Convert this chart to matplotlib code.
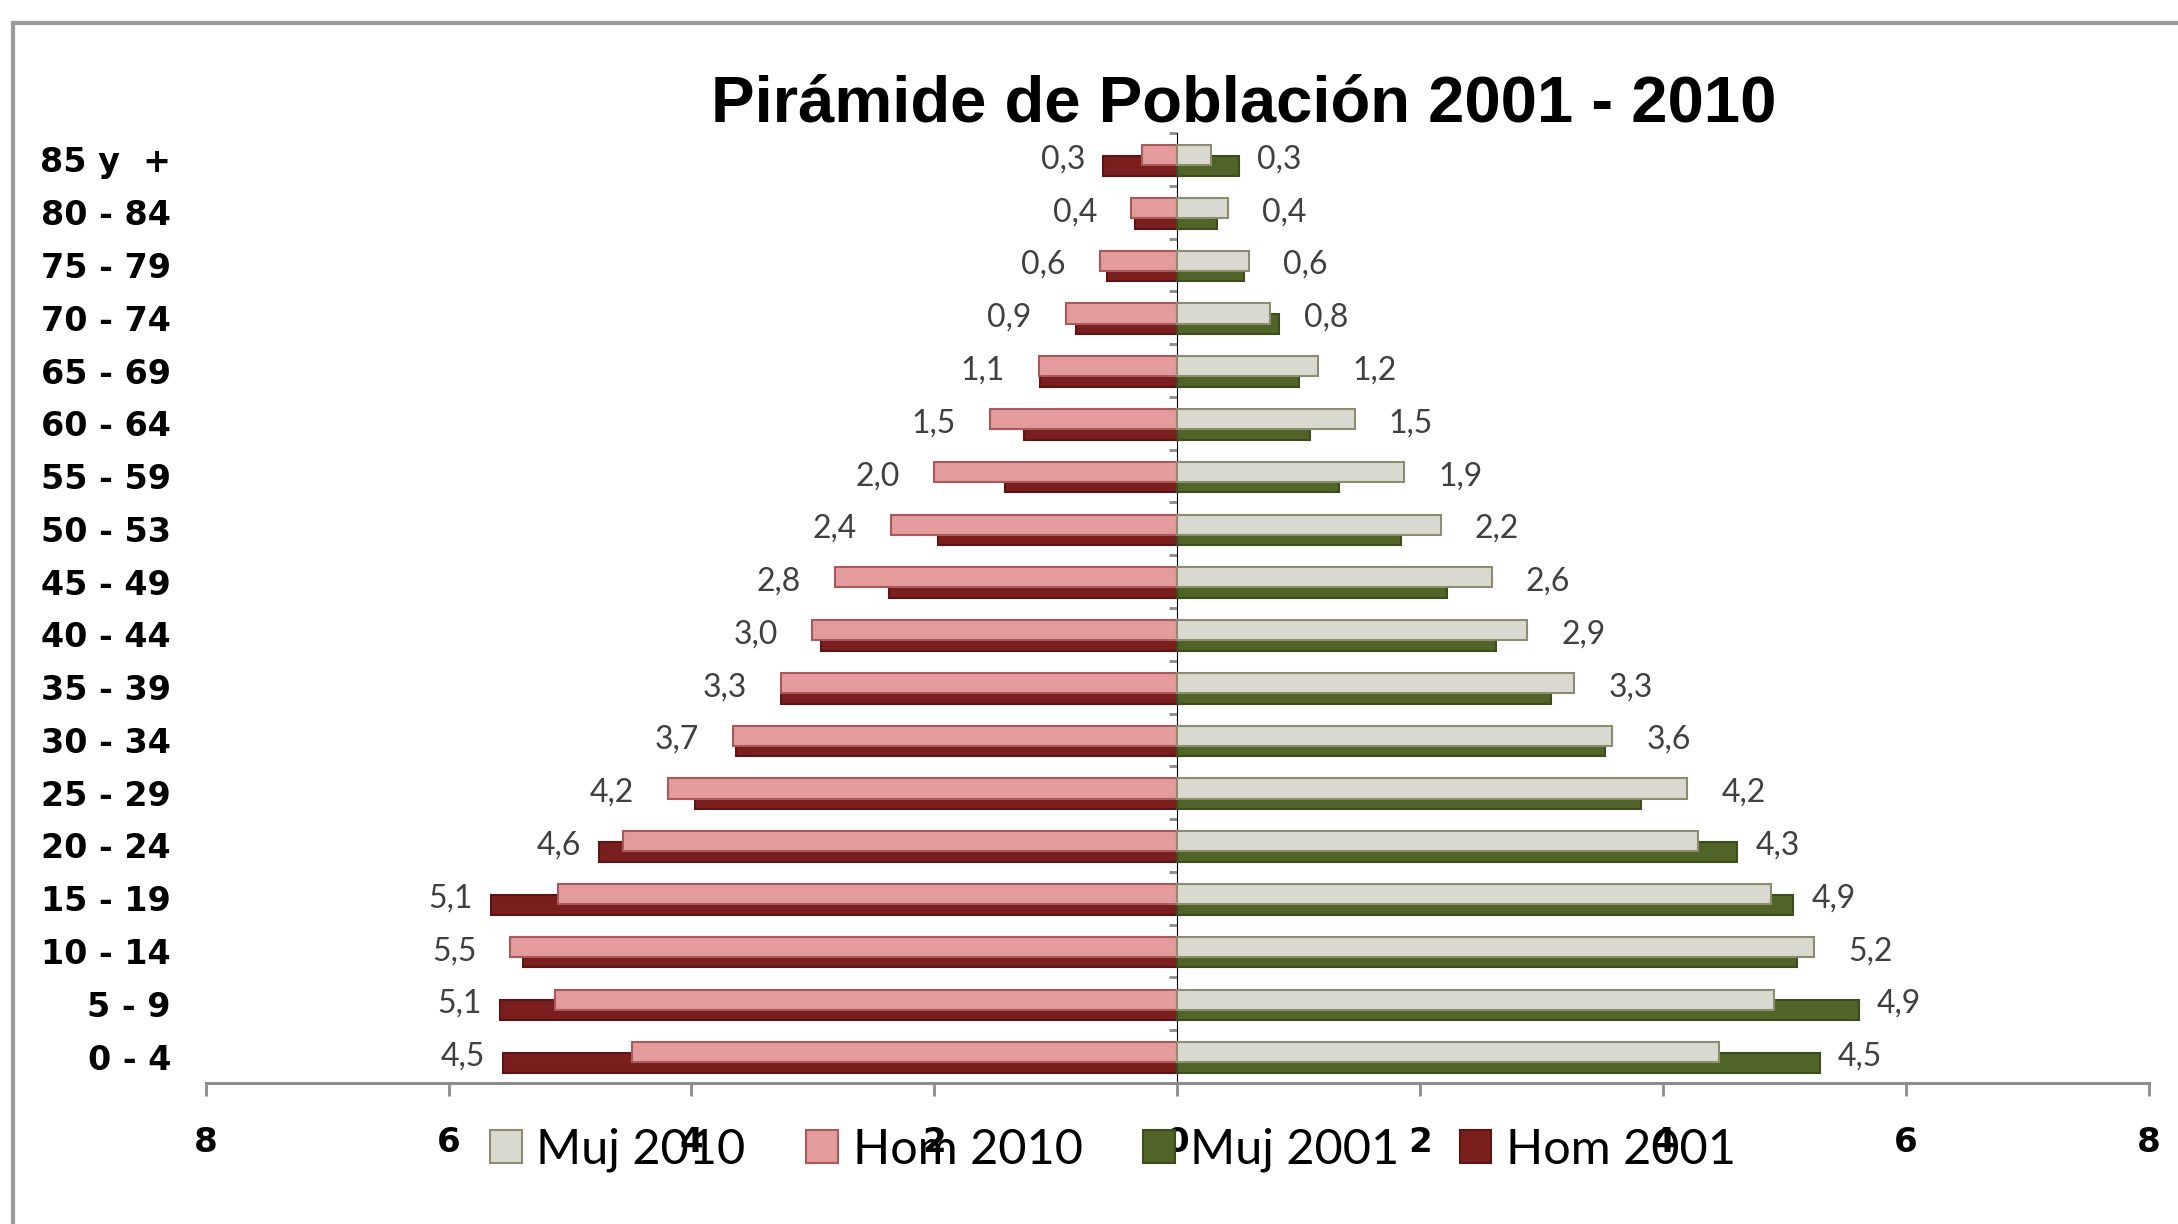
import numpy as np
import matplotlib
matplotlib.use("Agg")
import matplotlib.pyplot as plt
from matplotlib.patches import Patch
from matplotlib.lines import Line2D

# age groups, bottom to top
grupos = ['0 - 4', '5 - 9', '10 - 14', '15 - 19', '20 - 24', '25 - 29',
          '30 - 34', '35 - 39', '40 - 44', '45 - 49', '50 - 53', '55 - 59',
          '60 - 64', '65 - 69', '70 - 74', '75 - 79', '80 - 84', '85 y  +']

# percentages
muj_2010 = [4.46, 4.91, 5.24, 4.89, 4.29, 4.20, 3.58, 3.27, 2.88, 2.59,
            2.17, 1.87, 1.46, 1.16, 0.76, 0.59, 0.42, 0.28]
hom_2010 = [4.49, 5.12, 5.49, 5.10, 4.56, 4.19, 3.66, 3.26, 3.01, 2.82,
            2.36, 2.00, 1.54, 1.14, 0.92, 0.64, 0.38, 0.29]
muj_2001 = [5.29, 5.61, 5.10, 5.07, 4.61, 3.82, 3.52, 3.08, 2.62, 2.22,
            1.84, 1.33, 1.09, 1.00, 0.84, 0.55, 0.33, 0.51]
hom_2001 = [5.55, 5.58, 5.39, 5.65, 4.76, 3.97, 3.63, 3.26, 2.93, 2.37,
            1.97, 1.42, 1.26, 1.13, 0.83, 0.58, 0.35, 0.61]

xticks = [-8, -6, -4, -2, 0, 2, 4, 6, 8]

W, H = 2178, 1224
fig = plt.figure(figsize=(W / 100, H / 100), dpi=100)
ax = fig.add_axes([205.6 / W, (H - 1083) / H, (2149 - 205.6) / W, (1083 - 133) / H])

y = np.arange(len(grupos))
h = 0.38
c10, c01 = 0.08, -0.12

col_muj10, edge_muj10 = '#d9d9cf', '#8c8c70'
col_hom10, edge_hom10 = '#e39b9b', '#a85a5a'
col_muj01, edge_muj01 = '#506428', '#3c4c1c'
col_hom01, edge_hom01 = '#7a1e1e', '#5c1414'

# 2001 bars behind, 2010 bars in front
ax.barh(y + c01, np.negative(hom_2001), height=h, color=col_hom01,
        edgecolor=edge_hom01, linewidth=1.5, zorder=2)
ax.barh(y + c01, muj_2001, height=h, color=col_muj01,
        edgecolor=edge_muj01, linewidth=1.5, zorder=2)
ax.barh(y + c10, np.negative(hom_2010), height=h, color=col_hom10,
        edgecolor=edge_hom10, linewidth=1.5, zorder=3)
ax.barh(y + c10, muj_2010, height=h, color=col_muj10,
        edgecolor=edge_muj10, linewidth=1.5, zorder=3)

# data labels (2010 values)
for i in range(len(grupos)):
    xl = max(hom_2010[i] + 0.28, hom_2001[i] + 0.15)
    ax.text(-xl, y[i], ('%.1f' % hom_2010[i]).replace('.', ','), ha='right',
            va='center', fontsize=23, color='#404040', family='Lato', zorder=4)
    xr = max(muj_2010[i] + 0.28, muj_2001[i] + 0.15)
    ax.text(xr, y[i], ('%.1f' % muj_2010[i]).replace('.', ','), ha='left',
            va='center', fontsize=23, color='#404040', family='Lato', zorder=4)

ax.set_xlim(-8, 8)
ax.set_ylim(-0.5, len(grupos) - 0.5)

gris = '#8c8c8c'
for s in ['top', 'right', 'left']:
    ax.spines[s].set_visible(False)
ax.spines['bottom'].set_color(gris)
ax.spines['bottom'].set_linewidth(2.2)

ax.set_xticks(xticks)
ax.set_xticklabels([str(abs(t)) for t in xticks])
ax.tick_params(axis='x', length=9, width=2, color=gris, pad=22, labelsize=24.5)
ax.set_yticks(y)
ax.set_yticklabels(grupos)
ax.tick_params(axis='y', length=0, pad=25, labelsize=24)
for lab in ax.get_xticklabels() + ax.get_yticklabels():
    lab.set_fontweight('bold')
    lab.set_family('DejaVu Sans')

# vertical axis through zero with category ticks
sec = ax.secondary_yaxis(0.5)
sec.yaxis.set_ticks_position('left')
sec.set_yticks(np.arange(len(grupos) + 1) - 0.5)
sec.set_yticklabels([])
sec.tick_params(length=6, width=2, colors=gris)
sec.spines['left'].set_color(gris)
sec.spines['left'].set_linewidth(2)

fig.text(0.571, 0.915, 'Pirámide de Población 2001 - 2010', ha='center',
         va='center', fontsize=47, fontweight='bold', family='Liberation Sans')

handles = [Patch(facecolor=col_muj10, edgecolor=edge_muj10, linewidth=1.5, label='Muj 2010'),
           Patch(facecolor=col_hom10, edgecolor=edge_hom10, linewidth=1.5, label='Hom 2010'),
           Patch(facecolor=col_muj01, edgecolor=edge_muj01, linewidth=1.5, label='Muj 2001'),
           Patch(facecolor=col_hom01, edgecolor=edge_hom01, linewidth=1.5, label='Hom 2001')]
fig.legend(handles=handles, loc='center', bbox_to_anchor=(0.511, 0.0605), ncol=4,
           frameon=False, prop={'family': 'Lato', 'size': 35},
           handlelength=0.65, handleheight=0.65, handletextpad=0.3, columnspacing=1.25)

# outer frame (top and left edges)
fig.add_artist(Line2D([13 / W, 1], [1 - 23 / H, 1 - 23 / H], transform=fig.transFigure,
                      color='#9a9a9a', lw=3))
fig.add_artist(Line2D([13 / W, 13 / W], [0, 1 - 23 / H], transform=fig.transFigure,
                      color='#9a9a9a', lw=3))

fig.savefig('out.png', dpi=100)
